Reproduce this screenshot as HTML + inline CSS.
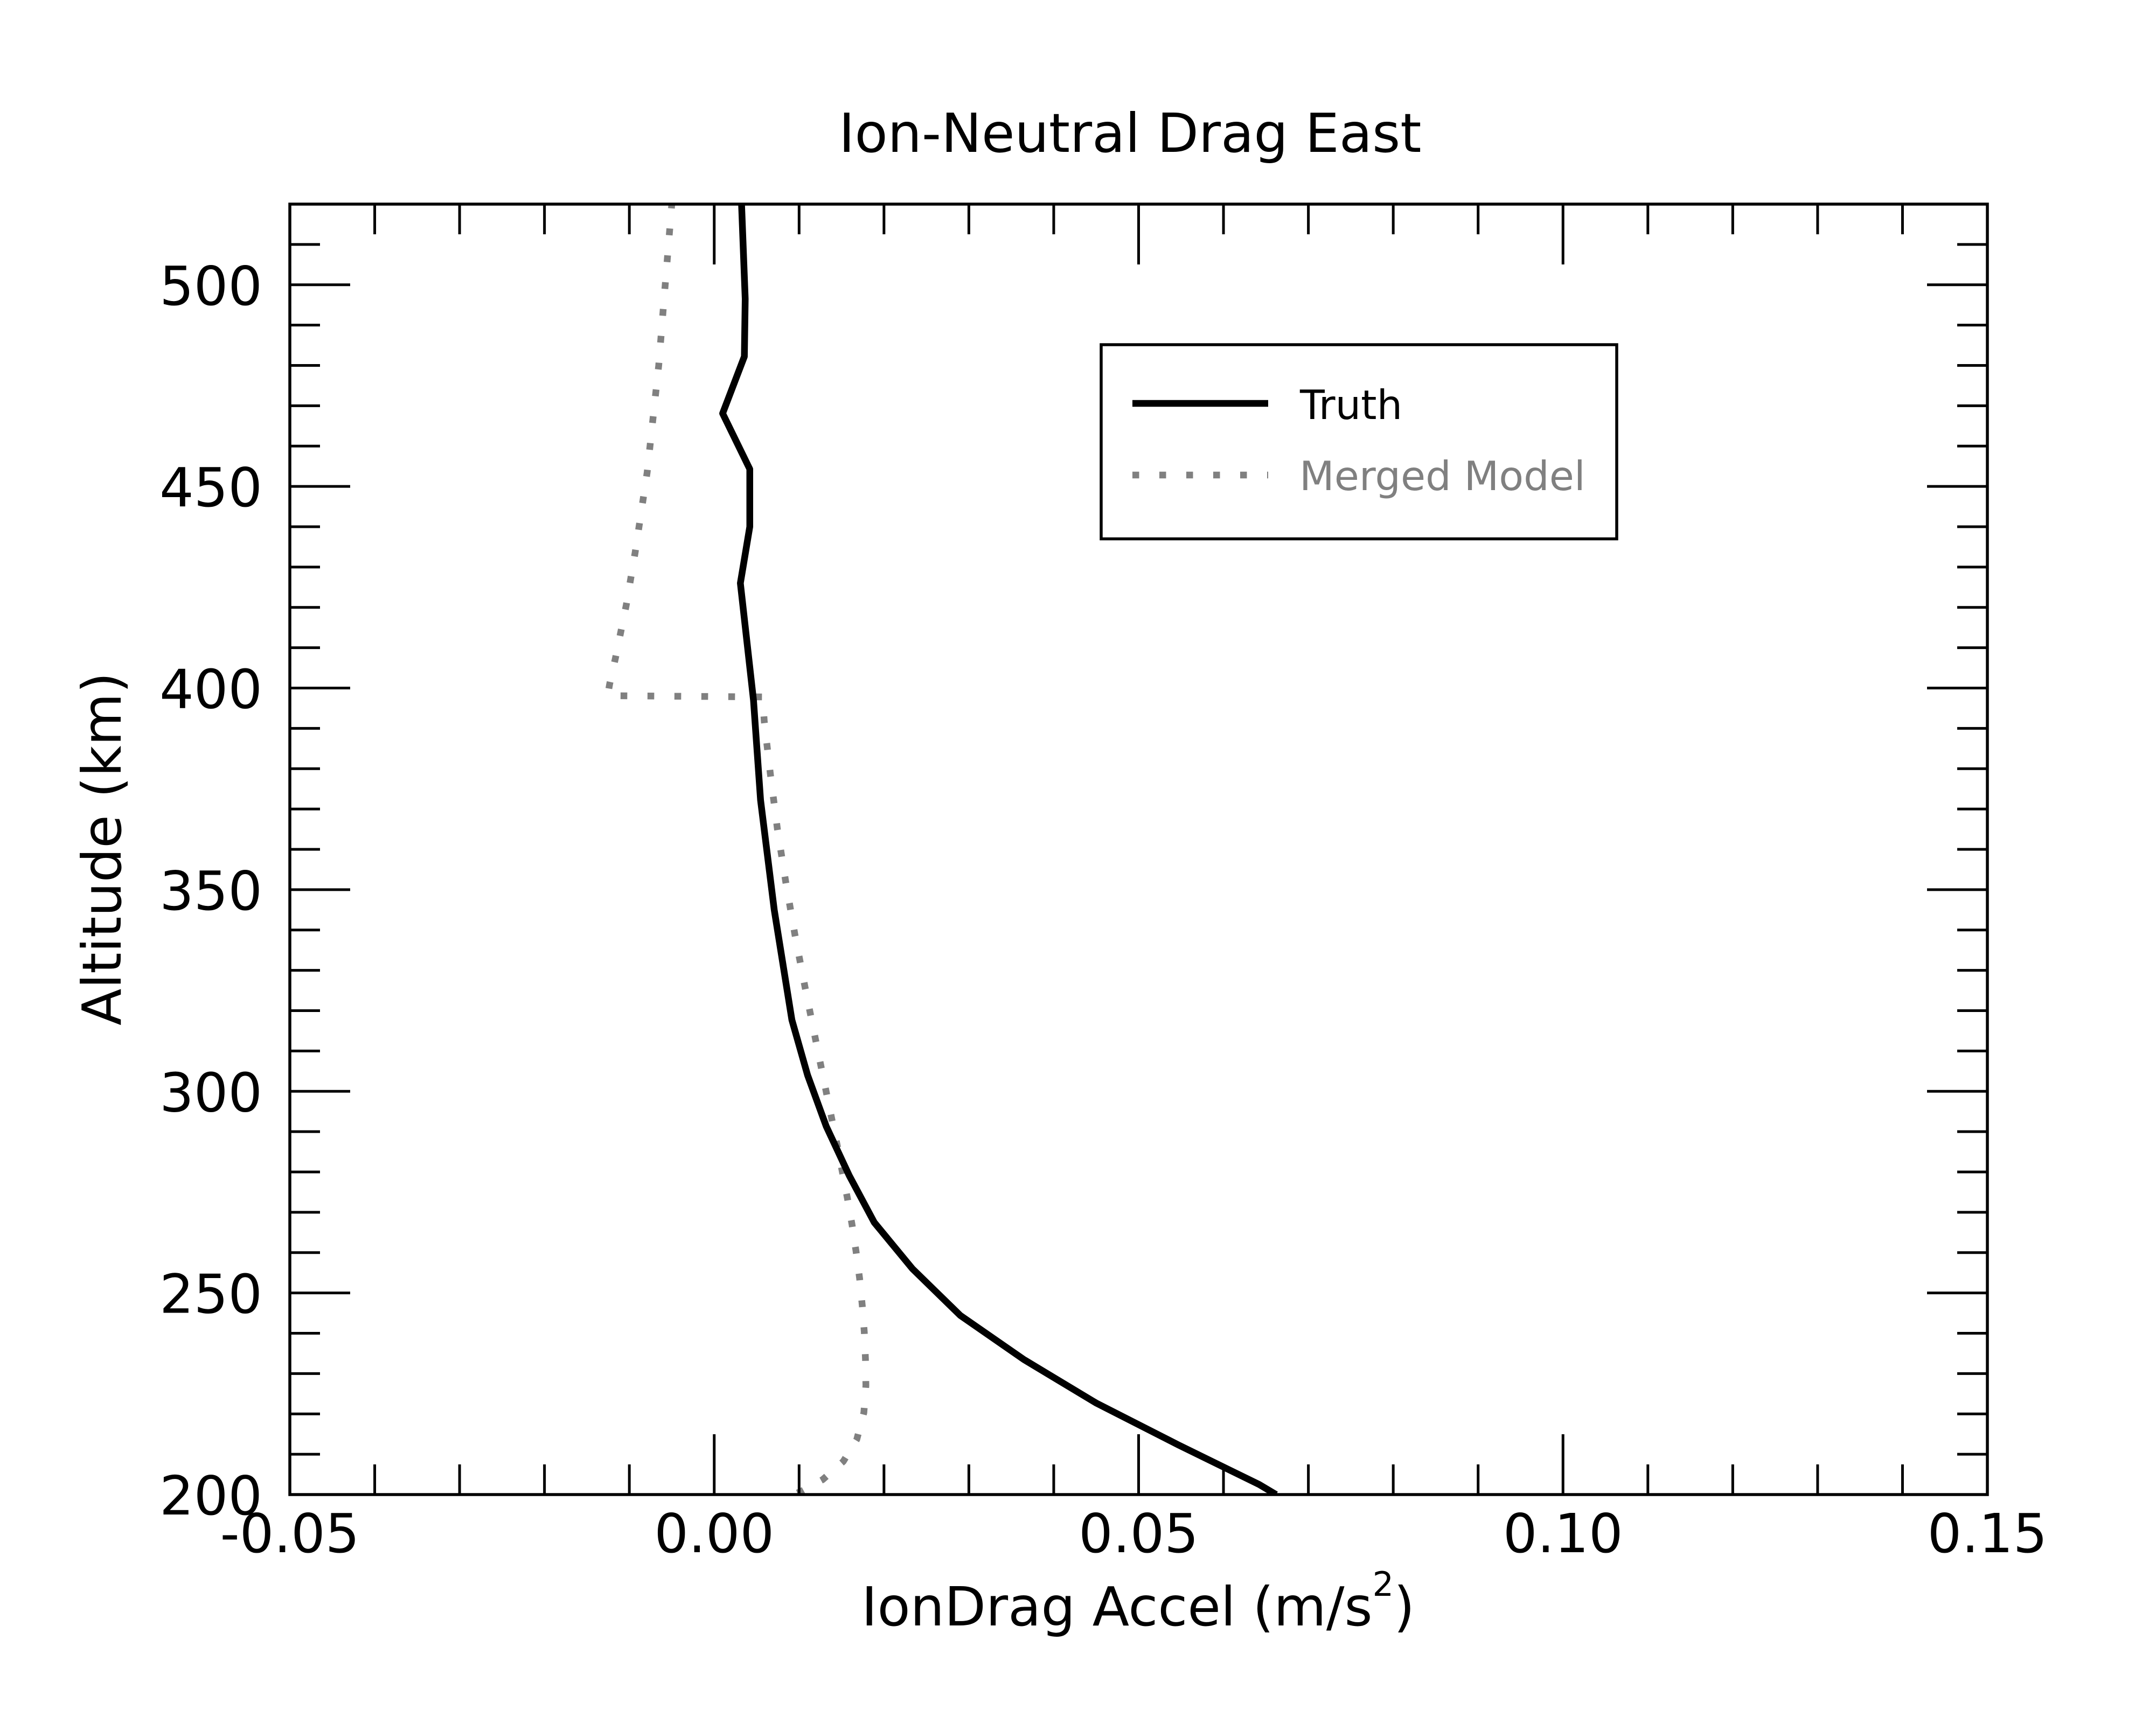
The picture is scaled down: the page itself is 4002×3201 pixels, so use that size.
<!DOCTYPE html>
<html lang="en">
<head>
<meta charset="utf-8">
<title>Ion-Neutral Drag East</title>
<style>
html,body{margin:0;padding:0;background:#fff;}
svg{display:block;}
text{font-family:"DejaVu Sans","Liberation Sans",sans-serif;fill:#000;}
</style>
</head>
<body>
<svg id="chart" xmlns="http://www.w3.org/2000/svg" width="4002" height="3201" viewBox="0 0 4002 3201">
  <defs>
    <clipPath id="plot-clip"><rect x="538" y="379" width="3151" height="2396"/></clipPath>
  </defs>
  <rect x="0" y="0" width="4002" height="3201" fill="#fff"/>
  <g id="series" clip-path="url(#plot-clip)"></g>
  <g id="ticks"></g>
  <rect x="538" y="379" width="3151" height="2396" fill="none" stroke="#000" stroke-width="5.5"/>
  <text x="1557" y="282" font-size="100">Ion-Neutral Drag East</text>
  <text x="1599" y="3018" font-size="100">IonDrag Accel (m/s<tspan font-size="62" dy="-55">2</tspan><tspan dy="55">)</tspan></text>
  <text transform="translate(224,1904) rotate(-90)" font-size="100">Altitude (km)</text>
  <g>
    <rect x="2044" y="640" width="957" height="360.5" fill="#fff" stroke="#000" stroke-width="5.5"/>
    <line x1="2102" y1="749" x2="2354" y2="749" stroke="#000" stroke-width="12.5"/>
    <text x="2413" y="778" font-size="75">Truth</text>
    <line x1="2102" y1="882" x2="2354" y2="882" stroke="#808080" stroke-width="12.5" stroke-dasharray="12.5 37.5"/>
    <text x="2412" y="910" font-size="75" style="fill:#808080">Merged Model</text>
  </g>
</svg>
<script>
// Chart data
const truthAltitude = [520, 496.5, 482.2, 468.1, 454.3, 440, 426, 396.9, 372.2, 345, 317.7, 304, 291.3, 279, 267.5, 256, 244.4, 233.5, 222.7, 212.3, 202.5, 200];
const truthAccel = [0.00322, 0.00365, 0.00355, 0.00099, 0.00419, 0.00419, 0.00308, 0.00463, 0.00546, 0.00707, 0.00915, 0.011, 0.0132, 0.01593, 0.01885, 0.02335, 0.029, 0.03647, 0.045, 0.0547, 0.0642, 0.0662];
const mergedAltitude = [200, 200.7, 203.7, 208.2, 213.7, 220.3, 227, 233.6, 240.3, 246.9, 253.6, 260.3, 266.9, 273.4, 286.5, 299.6, 312.7, 325.7, 338.8, 352, 365.1, 378.4, 391.6, 397.8, 398.1, 401, 407.4, 420.5, 433.7, 453.5, 480, 493.4, 520];
const mergedAccel = [0.00926, 0.01015, 0.01277, 0.0152, 0.0168, 0.01763, 0.01787, 0.01782, 0.01768, 0.01744, 0.01713, 0.01671, 0.01624, 0.0157, 0.0145, 0.01322, 0.01195, 0.01071, 0.00951, 0.00842, 0.00744, 0.00663, 0.0059, 0.0057, -0.01256, -0.01232, -0.01164, -0.01037, -0.00931, -0.0079, -0.00654, -0.00603, -0.005];
const xMajorTicks = [-0.05, 0, 0.05, 0.1, 0.15];
const xTickLabels = ["-0.05", "0.00", "0.05", "0.10", "0.15"];
const xMinorTicks = [-0.04, -0.03, -0.02, -0.01, 0.01, 0.02, 0.03, 0.04, 0.06, 0.07, 0.08, 0.09, 0.11, 0.12, 0.13, 0.14];
const yMajorTicks = [200, 250, 300, 350, 400, 450, 500];
const yTickLabels = ["200", "250", "300", "350", "400", "450", "500"];
const yMinorTicks = [210, 220, 230, 240, 260, 270, 280, 290, 310, 320, 330, 340, 360, 370, 380, 390, 410, 420, 430, 440, 460, 470, 480, 490, 510];

const NS = 'http://www.w3.org/2000/svg';
const plot = {left: 538, right: 3689, top: 379, bottom: 2775};
const domainX = [-0.05, 0.15];
const domainY = [200, 520];
function xScale(v) { return plot.left + (v - domainX[0]) / (domainX[1] - domainX[0]) * (plot.right - plot.left); }
function yScale(v) { return plot.bottom - (v - domainY[0]) / (domainY[1] - domainY[0]) * (plot.bottom - plot.top); }
function linePath(xs, ys) {
  return xs.map(function (v, i) { return (i ? 'L' : 'M') + xScale(v).toFixed(2) + ' ' + yScale(ys[i]).toFixed(2); }).join(' ');
}
const seriesGroup = document.getElementById('series');
const tickGroup = document.getElementById('ticks');

const mergedPath = document.createElementNS(NS, 'path');


mergedPath.setAttribute('d', linePath(mergedAccel, mergedAltitude));
mergedPath.setAttribute('fill', 'none');
mergedPath.setAttribute('stroke', '#808080');
mergedPath.setAttribute('stroke-width', '12.5');
mergedPath.setAttribute('stroke-dasharray', '12.5 37.5');
mergedPath.setAttribute('stroke-dashoffset', '-8.8');
seriesGroup.appendChild(mergedPath);

const truthPath = document.createElementNS(NS, 'path');


truthPath.setAttribute('d', linePath(truthAccel, truthAltitude));
truthPath.setAttribute('fill', 'none');
truthPath.setAttribute('stroke', '#000');
truthPath.setAttribute('stroke-width', '12.5');
truthPath.setAttribute('stroke-linejoin', 'round');
seriesGroup.appendChild(truthPath);

function addTick(x1, y1, x2, y2, name) {
  const t = document.createElementNS(NS, 'line');
  
  
  t.setAttribute('x1', x1);
  t.setAttribute('y1', y1);
  t.setAttribute('x2', x2);
  t.setAttribute('y2', y2);
  t.setAttribute('stroke', '#000');
  t.setAttribute('stroke-width', '5');
  tickGroup.appendChild(t);
}
function addLabel(x, y, anchor, str, name) {
  const l = document.createElementNS(NS, 'text');
  
  
  l.setAttribute('x', x);
  l.setAttribute('y', y);
  l.setAttribute('text-anchor', anchor);
  l.setAttribute('font-size', '100');
  l.textContent = str;
  tickGroup.appendChild(l);
}
const MAJOR = 112, MINOR = 56;
xMajorTicks.forEach(function (v, i) {
  const x = xScale(v);
  addTick(x, plot.bottom, x, plot.bottom - MAJOR, 'x-major-tick');
  addTick(x, plot.top, x, plot.top + MAJOR, 'x-major-tick-top');
  addLabel(x, 2882, 'middle', xTickLabels[i], 'x-tick-label');
});
xMinorTicks.forEach(function (v) {
  const x = xScale(v);
  addTick(x, plot.bottom, x, plot.bottom - MINOR, 'x-minor-tick');
  addTick(x, plot.top, x, plot.top + MINOR, 'x-minor-tick-top');
});
yMajorTicks.forEach(function (v, i) {
  const y = yScale(v);
  addTick(plot.left, y, plot.left + MAJOR, y, 'y-major-tick');
  addTick(plot.right, y, plot.right - MAJOR, y, 'y-major-tick-right');
  addLabel(487, y + 37, 'end', yTickLabels[i], 'y-tick-label');
});
yMinorTicks.forEach(function (v) {
  const y = yScale(v);
  addTick(plot.left, y, plot.left + MINOR, y, 'y-minor-tick');
  addTick(plot.right, y, plot.right - MINOR, y, 'y-minor-tick-right');
});
</script>
</body>
</html>
